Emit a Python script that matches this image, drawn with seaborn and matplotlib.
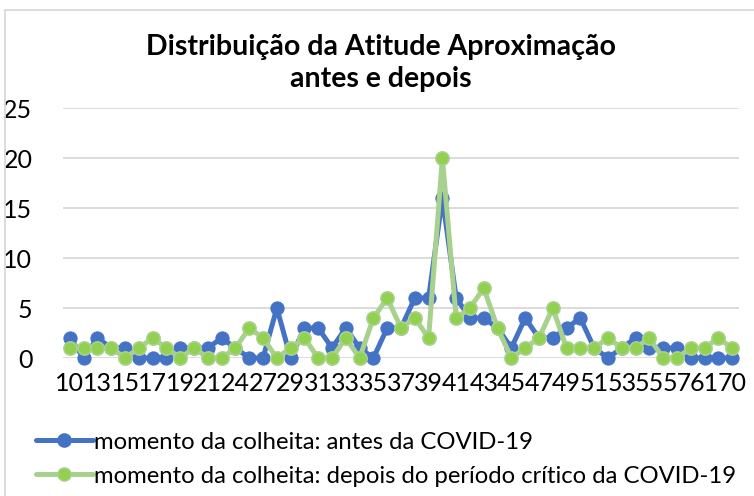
import matplotlib
matplotlib.use("Agg")
import matplotlib.pyplot as plt
from matplotlib.patches import Rectangle
from matplotlib.lines import Line2D
import seaborn as sns
import pandas as pd

# Categories on the x axis (score values)
categorias = [10, 12, 13, 14, 15, 16, 17, 18, 19, 20, 21, 23, 24, 26, 27, 28, 29, 30,
              31, 32, 33, 34, 35, 36, 37, 38, 39, 40, 41, 42, 43, 44, 45, 46, 47, 48,
              49, 50, 51, 52, 53, 54, 55, 56, 57, 59, 61, 66, 70]

antes = [2, 0, 2, 1, 1, 0, 0, 0, 1, 1, 1, 2, 1, 0, 0, 5,
         0, 3, 3, 1, 3, 1, 0, 3, 3, 6, 6, 16, 6, 4, 4, 3, 1,
         4, 2, 2, 3, 4, 1, 0, 1, 2, 1, 1, 1, 0, 0, 0, 0]

depois = [1, 1, 1, 1, 0, 1, 2, 1, 0, 1, 0, 0, 1, 3, 2, 0,
          1, 2, 0, 0, 2, 0, 4, 6, 3, 4, 2, 20, 4, 5, 7, 3, 0,
          1, 2, 5, 1, 1, 1, 2, 1, 1, 2, 0, 0, 1, 1, 2, 1]

serie_antes = "momento da colheita: antes da COVID-19"
serie_depois = "momento da colheita: depois do período crítico da COVID-19"
titulo = "Distribuição da Atitude Aproximação\nantes e depois"
y_ticks = [0, 5, 10, 15, 20, 25]

sns.set_theme(style="white")
plt.rcParams["font.family"] = ["Lato", "DejaVu Sans"]

AZUL = "#4472C4"
VERDE_LINHA = "#A9D18E"
VERDE_PONTO = "#92D050"
TEXTO = "#000000"

pos = list(range(len(categorias)))
df = pd.DataFrame({"pos": pos + pos,
                   "valor": antes + depois,
                   "serie": [serie_antes] * len(pos) + [serie_depois] * len(pos)})

fig = plt.figure(figsize=(7.54, 4.96), dpi=100)
ax = fig.add_axes([63 / 754, 1 - 358 / 496, (739 - 63) / 754, (358 - 108) / 496])

sns.lineplot(data=df[df.serie == serie_antes], x="pos", y="valor", ax=ax,
             color=AZUL, lw=3.6, marker="o", markersize=9.5,
             markerfacecolor=AZUL, markeredgecolor=AZUL, clip_on=False,
             legend=False, zorder=3)
sns.lineplot(data=df[df.serie == serie_depois], x="pos", y="valor", ax=ax,
             color=VERDE_LINHA, lw=3.6, marker="o", markersize=9.5,
             markerfacecolor=VERDE_PONTO, markeredgecolor=VERDE_LINHA,
             markeredgewidth=1.2, clip_on=False, legend=False, zorder=4)

ax.set_xlim(-0.5, len(categorias) - 0.5)
ax.set_ylim(0, 25)
ax.set_yticks(y_ticks)
ax.set_yticklabels([str(v) for v in y_ticks], fontsize=18, color=TEXTO)
ax.set_xticks(pos[::2])
ax.set_xticklabels([str(c) for c in categorias[::2]], fontsize=18, color=TEXTO)
ax.tick_params(axis="both", length=0)
ax.tick_params(axis="x", pad=10)
ax.tick_params(axis="y", pad=22)
ax.set_xlabel("")
ax.set_ylabel("")
ax.grid(axis="y", color="#D9D9D9", lw=1.3)
ax.grid(axis="x", visible=False)
for s in ax.spines.values():
    s.set_visible(False)

fig.text(0.505, 1 - 63 / 496, titulo, ha="center", va="center",
         fontsize=20.5, fontweight="bold", linespacing=1.3, color=TEXTO)

handles = [
    Line2D([], [], color=AZUL, lw=3.6, marker="o", markersize=9.5,
           markerfacecolor=AZUL, markeredgecolor=AZUL),
    Line2D([], [], color=VERDE_LINHA, lw=3.6, marker="o", markersize=9.5,
           markerfacecolor=VERDE_PONTO, markeredgecolor=VERDE_LINHA),
]
leg = fig.legend(handles, [serie_antes, serie_depois], loc="upper left",
                 bbox_to_anchor=(26 / 754, 1 - 422 / 496), frameon=False,
                 fontsize=17.2, handlelength=2.4, handletextpad=0.05,
                 labelspacing=0.55, borderaxespad=0)
for t in leg.get_texts():
    t.set_color(TEXTO)

fig.patches.append(Rectangle((5 / 754, -0.1), 1.2, 1.1 - 10 / 496,
                             transform=fig.transFigure, fill=False,
                             edgecolor="#D9D9D9", lw=1.3))

fig.savefig("out.png", dpi=100)
